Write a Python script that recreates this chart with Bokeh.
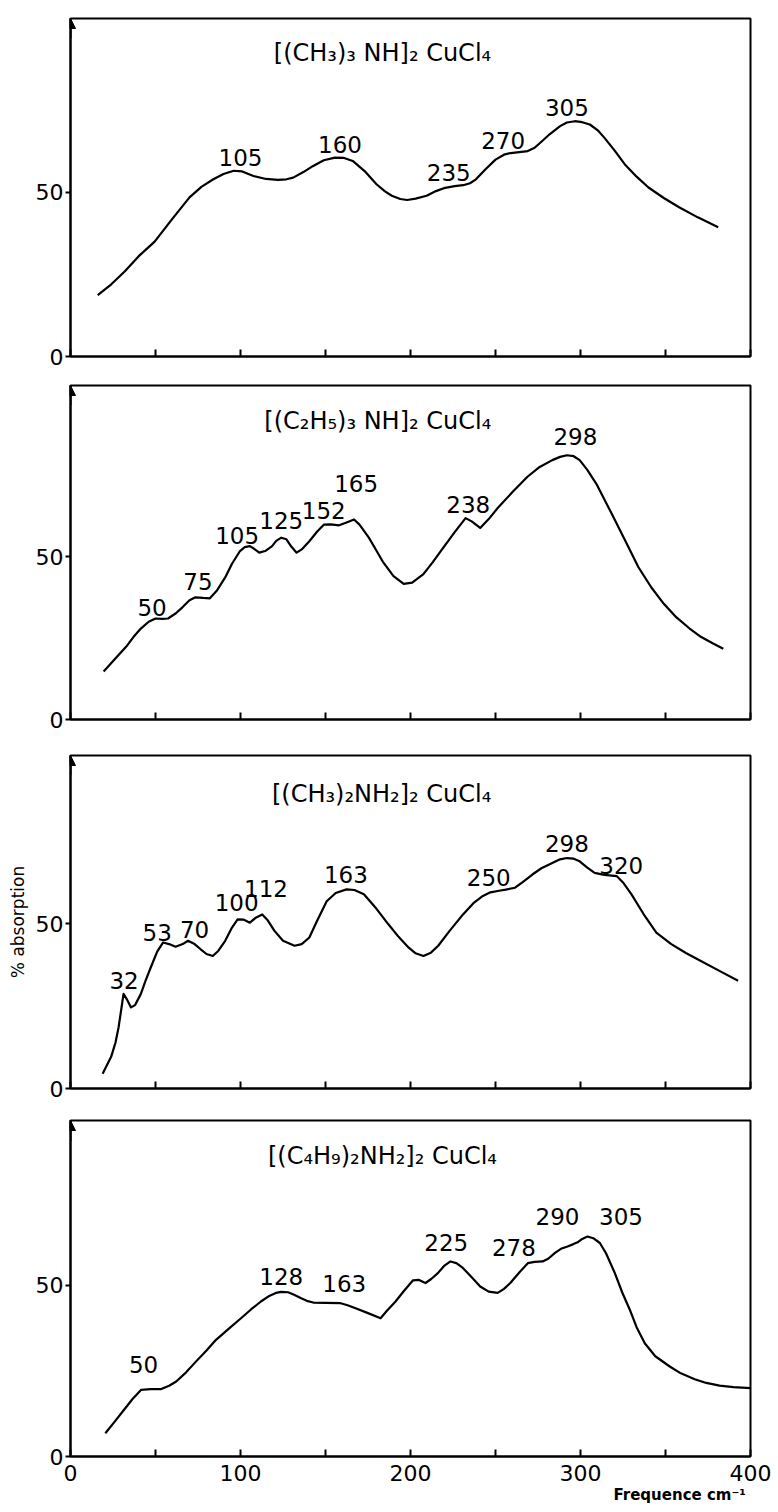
from bokeh.plotting import figure
from bokeh.layouts import column
from bokeh.models import Range1d, FixedTicker, Arrow, NormalHead, Title
from bokeh.core.properties import value
from bokeh.embed import file_html
from bokeh.resources import INLINE

# ---------------- data ----------------
titles = ["[(CH\u2083)\u2083  NH]\u2082  CuCl\u2084",
          "[(C\u2082H\u2085)\u2083 NH]\u2082  CuCl\u2084",
          "[(CH\u2083)\u2082NH\u2082]\u2082 CuCl\u2084",
          "[(C\u2084H\u2089)\u2082NH\u2082]\u2082   CuCl\u2084"]
title_x = [188, 183, 183, 188]
title_y = [92.4, 91.7, 89.4, 87.7]

x1 = [16, 24, 32, 40, 49.5, 60, 70, 77, 84, 90, 96, 101, 107.6, 115, 122, 127, 131, 137, 142.5, 149,
      155.6, 161, 166, 173, 180, 185, 189, 194, 198, 203, 209.5, 215, 219.6, 226, 231, 235, 238.5,
      244, 250, 255, 259, 264, 269, 273, 276, 282, 288, 292, 296.7, 301, 305.5, 310, 314, 320, 326,
      333, 340, 349, 358, 369, 381]
y1 = [18.7, 22, 26, 30.5, 35, 42, 48.5, 51.7, 54, 55.6, 56.6, 56.4, 55, 54.1, 53.8, 54, 54.5, 56.2,
      58, 59.8, 60.6, 60.5, 59.6, 56.5, 52.5, 50.3, 49, 48, 47.7, 48.1, 49, 50.4, 51.3, 51.9, 52.2,
      52.8, 54, 57, 60, 61.5, 62, 62.3, 62.6, 63.6, 65, 67.8, 70.2, 71.3, 71.7, 71.4, 70.7, 69, 66.7,
      62.8, 58.6, 54.8, 51.5, 48.3, 45.5, 42.4, 39.4]
lab1 = ["105", "160", "235", "270", "305"]
lab1_x = [100, 158.5, 222.5, 254.5, 292]
lab1_y = [60.6, 64.6, 56, 65.7, 76]

x2 = [19.5, 26, 32.7, 37, 41.4, 46, 50, 54, 57.4, 62, 66, 70, 73.5, 78, 82, 86, 91, 95, 99.7, 102.5,
      105.5, 108, 111, 114.5, 118.6, 121, 124, 127, 130, 133, 136, 140.5, 145, 149, 153, 158, 162,
      166.8, 170, 175.5, 180, 184, 190, 196, 201, 207.6, 213, 219.2, 226, 232.4, 236, 241, 246,
      251.3, 260, 268.8, 276, 283.4, 288, 292, 296, 299.5, 304, 309.7, 318, 327, 334, 341.7, 349,
      356.3, 364, 371, 378, 384]
y2 = [14.7, 18.5, 22.3, 25.3, 27.9, 30, 31, 30.9, 31, 32.6, 34.5, 36.6, 37.5, 37.3, 37.2, 39.5, 43.6,
      47.8, 51.7, 52.9, 53.2, 52.4, 51.2, 51.7, 53.2, 54.8, 55.8, 55.3, 53, 51.2, 52.2, 54.7, 57.6,
      59.8, 59.9, 59.6, 60.4, 61.4, 59.8, 55.8, 51.8, 48.2, 44, 41.6, 42, 44.6, 48.2, 52.7, 57.5,
      61.8, 60.8, 58.8, 61.5, 64.9, 69.8, 74.5, 77.5, 79.6, 80.6, 81.1, 80.8, 79.6, 76.6, 72, 63.5,
      54.2, 46.8, 40.5, 35.5, 31.4, 28, 25.3, 23.3, 21.7]
lab2 = ["50", "75", "105", "125", "152", "165", "238", "298"]
lab2_x = [48, 75, 98, 124, 149, 168, 234, 297]
lab2_y = [34.5, 42.2, 56.4, 61, 64, 72.5, 66, 86.7]

x3 = [18.9, 23.9, 26.5, 28.3, 30, 31.2, 33, 35.6, 38, 41.4, 44, 47.2, 51, 54.5, 58, 61.8, 66, 69.1,
      73, 76.4, 80, 83.7, 87, 91, 95, 98.3, 102, 105.5, 109, 112.8, 116, 120, 125, 131.8, 136, 140.5,
      145, 150.7, 156, 162.4, 167, 172.6, 180, 187, 193, 198.8, 203, 207.6, 212, 216.3, 223, 230.9,
      237, 242.6, 247, 251.3, 256, 261.5, 266, 271.7, 277, 283.4, 288, 292, 296, 299.5, 304, 308.3,
      314, 321.4, 325, 330, 337, 344.6, 353.4, 362, 370.8, 382, 392.7]
y3 = [4.5, 9.6, 14, 18.6, 24.5, 28.7, 27.2, 24.6, 25.3, 28.7, 32.5, 36.7, 41.5, 44.3, 43.8, 43, 43.8,
      44.8, 43.8, 42.3, 40.8, 40.2, 41.8, 44.8, 48.8, 51.3, 51.2, 50.3, 51.8, 52.8, 51, 47.8, 44.8,
      43.3, 43.8, 45.8, 50.8, 56.8, 59.3, 60.4, 60.2, 58.9, 54.5, 49.8, 46, 42.8, 41, 40.2, 41.2,
      43.3, 47.8, 52.8, 56.2, 58.4, 59.5, 59.9, 60.3, 60.9, 62.6, 64.9, 66.8, 68.4, 69.5, 69.9, 69.7,
      68.9, 67, 65.4, 64.8, 64.4, 62.5, 58.9, 53, 47.3, 43.8, 41.1, 38.7, 35.6, 32.7]
lab3 = ["32", "53", "70", "100", "112", "163", "250", "298", "320"]
lab3_x = [31.5, 51, 73, 97.7, 115, 162, 246, 292, 324]
lab3_y = [32.7, 47.3, 48.3, 56.3, 60.8, 64.9, 63.9, 74.4, 67.6]

x4 = [20.5, 26, 31.4, 36.5, 41.6, 47, 53.4, 58, 62.2, 68, 73.9, 80, 85.6, 93, 100.3, 106, 112, 116.5,
      120.8, 124, 128, 131.5, 135.4, 139, 142.8, 150, 158.9, 163, 167.7, 175, 182.4, 186, 191.2, 196,
      201.5, 205, 208.8, 212, 216.1, 220, 223.5, 227, 230.8, 236, 241, 246, 251.3, 255, 258.7, 264,
      269, 273, 277.7, 281, 285, 288.5, 292.4, 295.5, 298.3, 301, 304.1, 307.5, 311.4, 315, 320.2,
      324.5, 329, 333, 337.8, 344, 352.5, 359, 367.2, 374, 381.8, 390, 400]
y4 = [6.8, 10.2, 13.6, 16.8, 19.5, 19.7, 19.7, 20.7, 21.9, 24.6, 27.8, 31, 34.1, 37.3, 40.4, 42.9, 45.3,
      46.8, 47.8, 48.1, 48, 47.3, 46.3, 45.5, 45, 44.9, 44.8, 44.2, 43.3, 41.9, 40.4, 42.5, 45.3, 48.3,
      51.5, 51.6, 50.7, 51.8, 53.6, 55.8, 57, 56.5, 55.1, 52.4, 49.7, 48.2, 47.8, 49, 50.7, 53.8,
      56.5, 56.9, 57, 57.8, 59.5, 60.7, 61.4, 62, 62.6, 63.6, 64.3, 63.8, 62.4, 59.4, 53.6,
      48, 42.9, 37.8, 33.1, 29.3, 26.3, 24.3, 22.6, 21.5, 20.7, 20.3, 20]
lab4 = ["50", "128", "163", "225", "278", "290", "305"]
lab4_x = [43, 124, 161, 221, 260.8, 286.5, 323.8]
lab4_y = [26.8, 52.6, 50.7, 62.4, 61, 70, 70]

x_ticks = [0, 50, 100, 150, 200, 250, 300, 350, 400]
x_tick_labels = {0: "0", 50: "", 100: "100", 150: "", 200: "200", 250: "", 300: "300", 350: "", 400: "400"}
y_ticks = [0, 50]
x_axis_title = "Frequence cm\u207b\u00b9"
y_axis_title = "% absorption"

curves_x = [x1, x2, x3, x4]
curves_y = [y1, y2, y3, y4]
labels = [lab1, lab2, lab3, lab4]
labels_x = [lab1_x, lab2_x, lab3_x, lab4_x]
labels_y = [lab1_y, lab2_y, lab3_y, lab4_y]

# ---------------- layout constants ----------------
FONT = "DejaVu Sans"
y_top = [103, 102.5, 101, 98.2]
frame_h = [338, 334, 333, 336]
border_top = [18, 15, 18, 16]
border_bottom = [14, 18, 16, 20]

figs = []
for i in range(4):
    last = (i == 3)
    p = figure(frame_width=680, frame_height=frame_h[i],
               x_range=Range1d(0, 400), y_range=Range1d(0, y_top[i]),
               output_backend="svg", toolbar_location=None, title=None,
               min_border_left=70, min_border_right=28,
               min_border_top=border_top[i], min_border_bottom=border_bottom[i],
               background_fill_color="white", border_fill_color="white")
    p.xgrid.visible = False
    p.ygrid.visible = False
    p.outline_line_color = "black"
    p.outline_line_width = 2
    p.outline_line_alpha = 1

    xa = p.xaxis[0]
    xa.ticker = FixedTicker(ticks=x_ticks)
    xa.axis_line_width = 2
    xa.axis_line_color = "black"
    xa.major_tick_in = 7
    xa.major_tick_out = 0
    xa.major_tick_line_width = 2
    xa.minor_tick_line_color = None
    if last:
        xa.major_label_overrides = x_tick_labels
        xa.major_label_text_font = FONT
        xa.major_label_text_font_size = "22px"
        xa.major_label_text_color = "black"
        xa.major_label_standoff = 8
    else:
        xa.major_label_overrides = {t: "" for t in x_ticks}
        xa.major_label_text_font_size = "1px"
        xa.major_label_standoff = 0

    ya = p.yaxis[0]
    ya.ticker = FixedTicker(ticks=y_ticks)
    ya.axis_line_width = 2
    ya.axis_line_color = "black"
    ya.major_tick_in = 0
    ya.major_tick_out = 5
    ya.major_tick_line_width = 2
    ya.minor_tick_line_color = None
    ya.major_label_text_font = FONT
    ya.major_label_text_font_size = "22px"
    ya.major_label_text_color = "black"
    ya.major_label_standoff = 2
    if i == 2:
        ya.axis_label = y_axis_title
        ya.axis_label_text_font = FONT
        ya.axis_label_text_font_size = "17px"
        ya.axis_label_text_font_style = "normal"
        ya.axis_label_text_color = "black"
        ya.axis_label_standoff = 5

    p.line(curves_x[i], curves_y[i], line_color="black", line_width=2.2, line_join="round")
    p.text(x=labels_x[i], y=labels_y[i], text=labels[i], text_font=value(FONT),
           text_font_size="23px", text_align="center", text_baseline="middle", text_color="black")
    p.text(x=[title_x[i]], y=[title_y[i]], text=[titles[i]], text_font=value(FONT),
           text_font_size="24px", text_align="center", text_baseline="middle", text_color="black")

    p.add_layout(Arrow(end=NormalHead(size=10, fill_color="black", line_color="black"),
                       x_start=0, y_start=y_top[i] - 6, x_end=0, y_end=y_top[i],
                       line_color="black", line_width=2))

    if last:
        p.add_layout(Title(text=x_axis_title, align="left", offset=543, standoff=0,
                           text_font=FONT, text_font_size="15px", text_font_style="bold",
                           text_color="black"), "below")
    figs.append(p)

layout = column(*figs, spacing=0)
open("out.html", "w").write(file_html(layout, INLINE))
